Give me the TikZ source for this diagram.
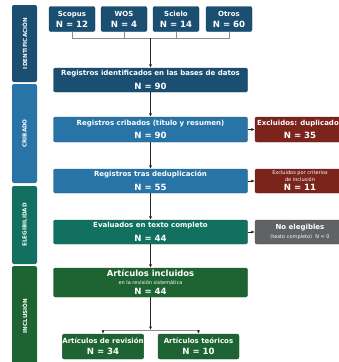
\documentclass[tikz,border=0pt]{standalone}
\usepackage{fontspec}
\setmainfont{DejaVu Sans}
\usetikzlibrary{arrows.meta}
\definecolor{cid}{HTML}{1B4F72}
\definecolor{ccr}{HTML}{2874A6}
\definecolor{cel}{HTML}{117060}
\definecolor{cin}{HTML}{1E6433}
\definecolor{cred}{HTML}{7B241C}
\definecolor{cgr}{HTML}{5F6364}
\newcommand\Ttl{\fontsize{7}{8.5}\selectfont\bfseries}
\newcommand\Nn{\fontsize{8.6}{10}\selectfont\bfseries}
\newcommand\Smt{\fontsize{5}{6}\selectfont}
\newcommand\Phs{\fontsize{5.6}{6.5}\selectfont\bfseries}
\newcommand\Bgt{\fontsize{8.4}{10}\selectfont\bfseries}
\begin{document}
\lineskiplimit=-20pt
\begin{tikzpicture}[x=1pt,y=-1pt,
  box/.style={draw=#1!80!black, fill=#1, rounded corners=2pt, text=white, align=center, inner sep=0pt, line width=0.4pt},
  lines/.style={font=\fontsize{5}{#1}\selectfont},
  phase/.style={fill=#1, rounded corners=2pt, rotate=90, text=white, inner sep=0pt, minimum height=25pt, font=\Phs},
  arr/.style={-{Latex[length=3.5pt,width=3pt]}, line width=0.6pt, draw=black!85},
  feed/.style={line width=0.6pt, draw=black!45}]
\useasboundingbox (0,0) rectangle (339,362);
\clip (0,0) rectangle (339,362);
% phase bars
\node[phase=cid, minimum width=77pt] (pid) at (24.5,43.5) {IDENTIFICACIÓN};
\node[phase=ccr, minimum width=99pt] (pcr) at (24.5,133.5) {CRIBADO};
\node[phase=cel, minimum width=78pt] (pel) at (24.5,225) {ELEGIBILIDAD};
\node[phase=cin, minimum width=100pt] (pin) at (24.5,316) {INCLUSIÓN};
% sources
\node[box=cid, lines=11, minimum width=46pt, minimum height=25pt] (sco) at (72,19) {{\Ttl Scopus}\\{\Nn N = 12}};
\node[box=cid, lines=11, minimum width=46pt, minimum height=25pt] (wos) at (124,19) {{\Ttl WOS}\\{\Nn N = 4}};
\node[box=cid, lines=11, minimum width=46pt, minimum height=25pt] (sci) at (176,19) {{\Ttl Scielo}\\{\Nn N = 14}};
\node[box=cid, lines=11, minimum width=46pt, minimum height=25pt] (otr) at (229,19) {{\Ttl Otros}\\{\Nn N = 60}};
% main column
\node[box=cid, lines=13.5, minimum width=194pt, minimum height=24pt] (reg) at (150.5,80) {{\Ttl Registros identificados en las bases de datos}\\{\Nn N = 90}};
\node[box=ccr, lines=13.5, minimum width=194pt, minimum height=25pt] (cri) at (150.5,129.5) {{\Ttl Registros cribados (título y resumen)}\\{\Nn N = 90}};
\node[box=ccr, lines=13.5, minimum width=194pt, minimum height=24pt] (ded) at (150.5,181) {{\Ttl Registros tras deduplicación}\\{\Nn N = 55}};
\node[box=cel, lines=13.5, minimum width=194pt, minimum height=24pt] (eva) at (150.5,232) {{\Ttl Evaluados en texto completo}\\{\Nn N = 44}};
\node[box=cin, lines=8, minimum width=194pt, minimum height=29pt] (inc) at (150.5,282.5) {{\Bgt Artículos incluidos}\\{\Smt en la revisión sistemática}\\[2pt]{\Nn N = 44}};
% exclusions
\node[box=cred, lines=13.5, minimum width=90pt, minimum height=25pt] (ex1) at (300,129.5) {{\Ttl Excluidos: duplicados}\\{\Nn N = 35}};
\node[box=cred, lines=7, minimum width=90pt, minimum height=24pt] (ex2) at (300,181) {{\Smt Excluidos por criterios}\\{\Smt de inclusión}\\[2pt]{\Nn N = 11}};
\node[box=cgr, lines=9, minimum width=90pt, minimum height=24pt] (ex3) at (300,232) {{\Ttl No elegibles}\\{\Smt (texto completo)\ \ N = 0}};
% bottom
\node[box=cin, lines=11, minimum width=80pt, minimum height=25pt] (rev) at (103,346.5) {{\Ttl Artículos de revisión}\\{\Nn N = 34}};
\node[box=cin, lines=11, minimum width=81pt, minimum height=25pt] (teo) at (198.5,346.5) {{\Ttl Artículos teóricos}\\{\Nn N = 10}};
% source merge
\coordinate (m1) at (72,38);
\coordinate (m4) at (229,38);
\coordinate (mc) at (150.5,38);
\draw[feed] (sco.south) -- (m1) -- (m4) -- (otr.south);
\draw[feed] (wos.south) -- (wos.south |- m1);
\draw[feed] (sci.south) -- (sci.south |- m1);
\draw[arr] (mc) -- (reg.north);
% main arrows
\draw[arr] (reg) -- (cri);
\draw[arr] (cri) -- (ded);
\draw[arr] (ded) -- (eva);
\draw[arr] (eva) -- (inc);
\draw[arr] (cri.east) -- (ex1.west);
\draw[arr] (ded.east) -- (ex2.west);
\draw[arr] (eva.east) -- (ex3.west);
% split
\coordinate (sc) at (150.5,330);
\coordinate (sl) at (103,330);
\coordinate (sr) at (198.5,330);
\draw[arr] (inc.south) -- (sc);
\draw[feed] (sl) -- (sr);
\draw[arr] (sl) -- (rev.north);
\draw[arr] (sr) -- (teo.north);
\end{tikzpicture}
\end{document}
